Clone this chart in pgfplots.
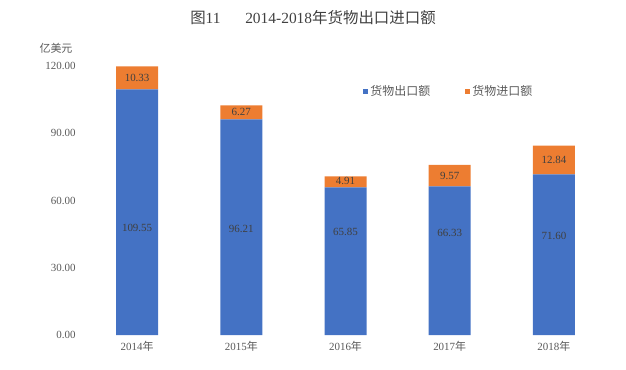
\documentclass[border=0pt]{standalone}
\usepackage{pgfplots}
\pgfplotsset{compat=1.18}
\usepackage{fontspec}
\setmainfont{Liberation Serif}
\newfontfamily\cjkf{Noto Sans CJK SC}
\DeclareRobustCommand\cjk{\cjkf}
\DeclareRobustCommand\nian{{\cjkf 年}}
\definecolor{cblue}{HTML}{4472C4}
\definecolor{corange}{HTML}{ED7D31}
\definecolor{ctext}{HTML}{595959}
\definecolor{clab}{HTML}{404040}
\begin{document}
\begin{tikzpicture}
\path[use as bounding box] (0,0) rectangle (626bp,370bp);
\node[font=\fontsize{15.5}{17}\selectfont, text=black!75] at (313bp,352bp) {{\cjk 图}11\hspace{1.6em}2014-2018{\cjk 年货物出口进口额}};
\node[font=\fontsize{11}{13}\selectfont\cjk, text=ctext] at (56bp,322bp) {亿美元};
\begin{axis}[at={(85bp,35bp)}, anchor=south west, scale only axis,
  width=521bp, height=269bp,
  ybar stacked, bar width=42bp,
  xmin=-0.5, xmax=4.5, ymin=0, ymax=120,
  ytick={0,30,60,90,120},
  xtick={0,1,2,3,4},
  xticklabels={2014\nian,2015\nian,2016\nian,2017\nian,2018\nian},
  axis line style={draw=none}, major tick length=0,
  yticklabel={\pgfmathprintnumber[fixed,fixed zerofill,precision=2]{\tick}},
  /pgf/number format/assume math mode=true,
  tick label style={font=\fontsize{11}{13}\selectfont, text=ctext},
  yticklabel style={xshift=-6bp},
  xticklabel style={yshift=-3bp},
  clip=false,
  legend columns=2,
  legend style={draw=none, fill=none, at={(0.528,0.905)}, anchor=west,
    font=\fontsize{12}{14}\selectfont\cjk, text=ctext,
    /tikz/every even column/.append style={column sep=33bp}},
  legend image code/.code={\fill[#1] (0bp,-2.6bp) rectangle (5.2bp,2.6bp);},
]
\addplot[fill=cblue, draw=none] coordinates {(0,109.55) (1,96.21) (2,65.85) (3,66.33) (4,71.60)};
\addplot[fill=corange, draw=none] coordinates {(0,10.33) (1,6.27) (2,4.91) (3,9.57) (4,12.84)};
\legend{货物出口额,货物进口额}
\coordinate (b0) at (axis cs:0,47.8);
\coordinate (b1) at (axis cs:1,47.3);
\coordinate (b2) at (axis cs:2,46.0);
\coordinate (b3) at (axis cs:3,45.5);
\coordinate (b4) at (axis cs:4,44.2);
\coordinate (o0) at (axis cs:0,114.7);
\coordinate (o1) at (axis cs:1,99.3);
\coordinate (o2) at (axis cs:2,68.6);
\coordinate (o3) at (axis cs:3,71.1);
\coordinate (o4) at (axis cs:4,78.0);
\end{axis}
\begin{scope}[every node/.style={font=\fontsize{11}{13}\selectfont, text=clab}]
\node at (b0) {109.55};
\node at (b1) {96.21};
\node at (b2) {65.85};
\node at (b3) {66.33};
\node at (b4) {71.60};
\node at (o0) {10.33};
\node at (o1) {6.27};
\node at (o2) {4.91};
\node at (o3) {9.57};
\node at (o4) {12.84};
\end{scope}
\end{tikzpicture}
\end{document}
